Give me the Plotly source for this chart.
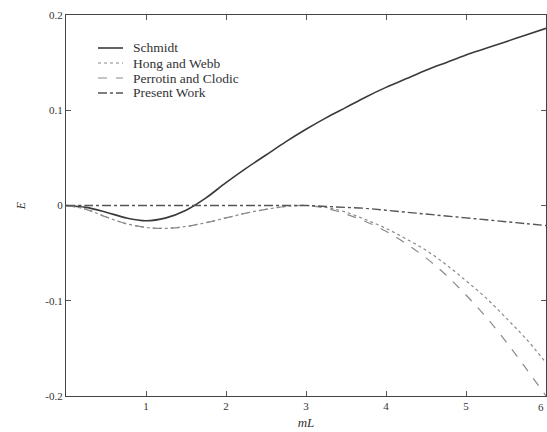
import plotly.graph_objects as go

mL = [0, 0.25, 0.5, 0.75, 1.0, 1.25, 1.5, 1.75, 2.0, 2.25, 2.5, 2.75, 3.0,
      3.25, 3.5, 3.75, 4.0, 4.25, 4.5, 4.75, 5.0, 5.25, 5.5, 5.75, 6.0]

schmidt = [0, -0.002, -0.007, -0.013, -0.016, -0.013, -0.005, 0.008, 0.024,
           0.039, 0.053, 0.067, 0.080, 0.092, 0.103, 0.114, 0.124, 0.133,
           0.142, 0.150, 0.158, 0.165, 0.172, 0.179, 0.186]

hong_webb = [0, -0.004, -0.012, -0.019, -0.023, -0.024, -0.022, -0.018, -0.013,
             -0.008, -0.004, -0.001, 0.000, -0.002, -0.007, -0.015, -0.024,
             -0.035, -0.047, -0.062, -0.079, -0.097, -0.118, -0.140, -0.165]

perrotin_clodic = [0, -0.004, -0.012, -0.019, -0.023, -0.024, -0.022, -0.018,
                   -0.013, -0.008, -0.004, -0.001, 0.000, -0.003, -0.009, -0.017,
                   -0.027, -0.040, -0.055, -0.073, -0.094, -0.117, -0.143,
                   -0.171, -0.200]

present_work = [0, 0, 0, 0, 0, 0, 0, 0, 0, 0, 0, 0, 0, -0.001, -0.002, -0.003,
                -0.005, -0.007, -0.009, -0.011, -0.013, -0.015, -0.017, -0.019,
                -0.021]

series_names = ["Schmidt", "Hong and Webb", "Perrotin and Clodic", "Present Work"]
series_values = [schmidt, hong_webb, perrotin_clodic, present_work]

x_ticks = [1, 2, 3, 4, 5, 6]
x_tick_labels = ["1", "2", "3", "4", "5", "6"]
y_ticks = [-0.2, -0.1, 0, 0.1, 0.2]
y_tick_labels = ["-0.2", "-0.1", "0", "0.1", "0.2"]

FONT = "Liberation Serif, Times New Roman, serif"
styles = [
    dict(color="#3a3a3a", width=1.6, dash="solid"),
    dict(color="#8a8a8a", width=1.2, dash="dot"),
    dict(color="#8a8a8a", width=1.2, dash="dash"),
    dict(color="#555555", width=1.4, dash="dashdot"),
]

W, H = 547, 432
ML, MR, MT, MB = 66, 1, 15, 36
pw, ph = W - ML - MR, H - MT - MB

def px_to_paper_x(px):
    return (px - ML) / pw

def px_to_paper_y(py):
    return (H - MB - py) / ph

fig = go.Figure()
for name, vals, st in zip(series_names, series_values, styles):
    fig.add_trace(go.Scatter(x=mL, y=vals, mode="lines", name=name,
                             line=dict(color=st["color"], width=st["width"],
                                       dash=st["dash"], shape="spline")))

# manual legend (sample lines + labels)
legend_rows_y = [48, 63, 78, 93]
for name, st, ry in zip(series_names, styles, legend_rows_y):
    fig.add_shape(type="line", xref="paper", yref="paper",
                  x0=px_to_paper_x(98), x1=px_to_paper_x(123),
                  y0=px_to_paper_y(ry), y1=px_to_paper_y(ry),
                  line=dict(color=st["color"], width=st["width"], dash=st["dash"]))
    fig.add_annotation(xref="paper", yref="paper", x=px_to_paper_x(131),
                       y=px_to_paper_y(ry), text=name, showarrow=False,
                       xanchor="left", yanchor="middle",
                       font=dict(family=FONT, size=13.5, color="#333333"))

# last x tick label sits at the right edge of the frame (plotly drops it)
fig.add_annotation(xref="x", yref="paper", x=x_ticks[-1], y=0, yshift=-3,
                   text=x_tick_labels[-1], showarrow=False,
                   xanchor="right", yanchor="top",
                   font=dict(family=FONT, size=11, color="#333333"))

fig.update_layout(
    width=W, height=H,
    margin=dict(l=ML, r=MR, t=MT, b=MB),
    paper_bgcolor="white", plot_bgcolor="white",
    font=dict(family=FONT, size=11, color="#333333"),
    showlegend=False,
)
fig.update_xaxes(range=[0, 6], tickvals=x_ticks, ticktext=x_tick_labels,
                 showgrid=False, zeroline=False, showline=True, linecolor="#444444",
                 linewidth=1.2, mirror="ticks", ticks="inside", ticklen=5,
                 tickcolor="#555555",
                 title=dict(text="<i>mL</i>", standoff=6, font=dict(family=FONT, size=13)))
fig.update_yaxes(range=[-0.2, 0.2], tickvals=y_ticks, ticktext=y_tick_labels,
                 showgrid=False, zeroline=False, showline=True, linecolor="#444444",
                 linewidth=1.2, mirror="ticks", ticks="inside", ticklen=5,
                 tickcolor="#555555",
                 title=dict(text="<i>E</i>", standoff=17, font=dict(family=FONT, size=12)))

fig.write_html("out.html", config={"displayModeBar": False},
               post_script="document.body.style.margin='0';document.body.style.overflow='hidden';")
